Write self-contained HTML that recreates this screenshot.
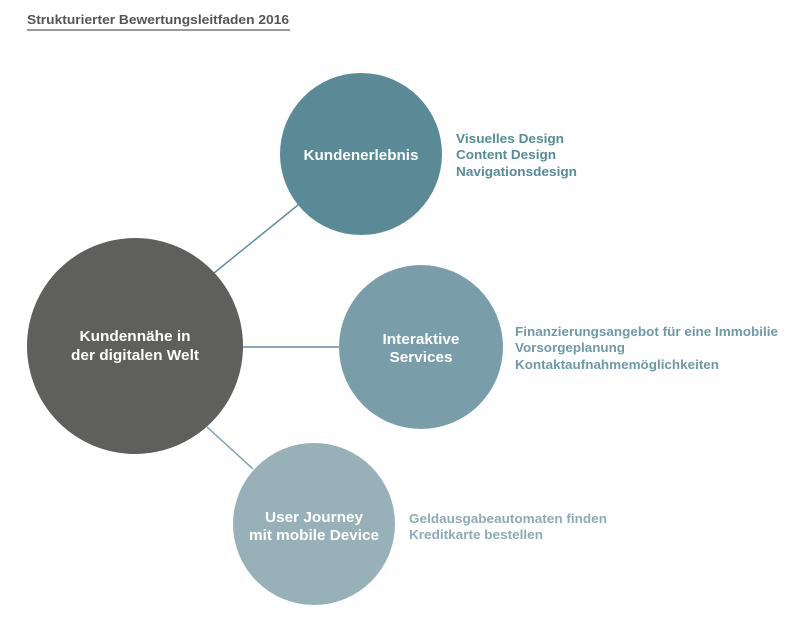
<!DOCTYPE html>
<html><head><meta charset="utf-8"><style>
body{margin:0;width:800px;height:621px;background:#fff;overflow:hidden;font-family:"Liberation Sans",sans-serif;}
</style></head><body>
<svg width="800" height="621" xmlns="http://www.w3.org/2000/svg" font-family="Liberation Sans, sans-serif" font-weight="bold">
<text x="27" y="24" font-size="13" fill="#555" textLength="262" lengthAdjust="spacingAndGlyphs">Strukturierter Bewertungsleitfaden 2016</text>
<line x1="27" y1="30" x2="290" y2="30" stroke="#999" stroke-width="2"/>
<line x1="214" y1="273" x2="298" y2="205" stroke="#5f8f9b" stroke-width="1.5"/>
<line x1="243" y1="347" x2="339" y2="347" stroke="#5f8f9b" stroke-width="1.5"/>
<line x1="207" y1="427" x2="253" y2="469" stroke="#7e9faa" stroke-width="1.5"/>
<circle cx="135" cy="346" r="108" fill="#5f5f5d"/>
<circle cx="361" cy="154" r="81" fill="#5a8a96"/>
<circle cx="421" cy="347" r="82" fill="#7a9ea9"/>
<circle cx="314" cy="524" r="81" fill="#98b0b8"/>
<g fill="#fff" font-size="15" text-anchor="middle">
<text x="135" y="341" textLength="111" lengthAdjust="spacingAndGlyphs">Kundennähe in</text>
<text x="135" y="360" textLength="128" lengthAdjust="spacingAndGlyphs">der digitalen Welt</text>
<text x="361" y="160" textLength="115" lengthAdjust="spacingAndGlyphs">Kundenerlebnis</text>
<text x="421" y="344" textLength="77" lengthAdjust="spacingAndGlyphs">Interaktive</text>
<text x="421" y="362" textLength="63" lengthAdjust="spacingAndGlyphs">Services</text>
<text x="314" y="522" textLength="98" lengthAdjust="spacingAndGlyphs">User Journey</text>
<text x="314" y="540" textLength="130" lengthAdjust="spacingAndGlyphs">mit mobile Device</text>
</g>
<g font-size="13.3" fill="#538c9a">
<text x="456" y="143" textLength="108" lengthAdjust="spacingAndGlyphs">Visuelles Design</text>
<text x="456" y="159" textLength="100" lengthAdjust="spacingAndGlyphs">Content Design</text>
<text x="456" y="176" textLength="121" lengthAdjust="spacingAndGlyphs">Navigationsdesign</text>
</g>
<g font-size="13.3" fill="#6e9aa6">
<text x="515" y="336" textLength="263" lengthAdjust="spacingAndGlyphs">Finanzierungsangebot für eine Immobilie</text>
<text x="515" y="352" textLength="110" lengthAdjust="spacingAndGlyphs">Vorsorgeplanung</text>
<text x="515" y="369" textLength="204" lengthAdjust="spacingAndGlyphs">Kontaktaufnahmemöglichkeiten</text>
</g>
<g font-size="13.3" fill="#8eabb4">
<text x="409" y="523" textLength="198" lengthAdjust="spacingAndGlyphs">Geldausgabeautomaten finden</text>
<text x="409" y="539" textLength="134" lengthAdjust="spacingAndGlyphs">Kreditkarte bestellen</text>
</g>
</svg>
</body></html>
